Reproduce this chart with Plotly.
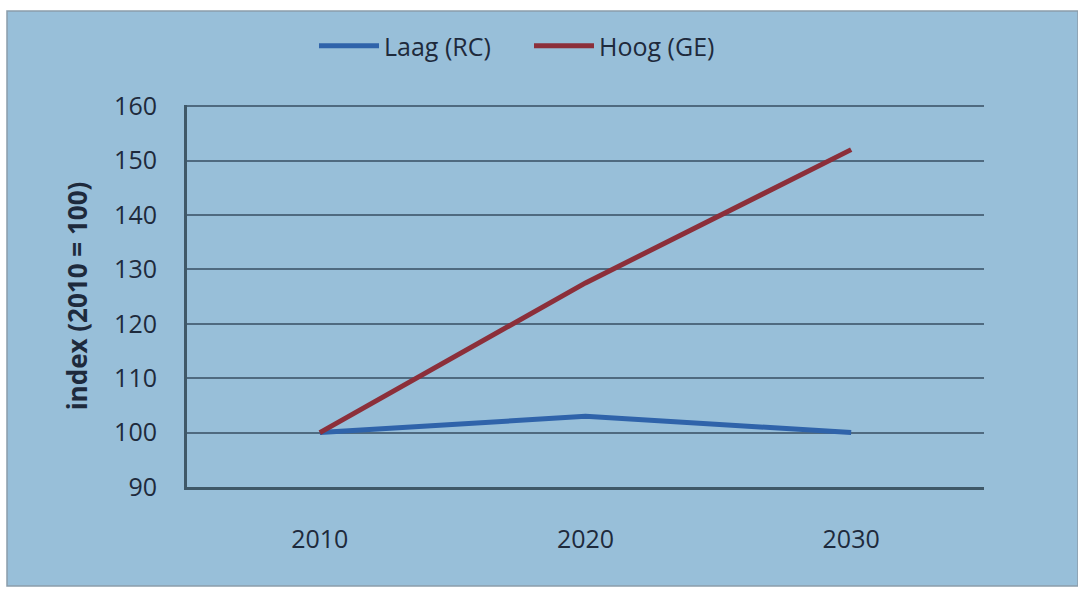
import plotly.graph_objects as go

years = ["2010", "2020", "2030"]
laag = [100, 103, 100]
hoog = [100, 127.5, 152]
y_ticks = [90, 100, 110, 120, 130, 140, 150, 160]

W, H = 1078, 589
L, R, T, B = 187, 1078 - 984, 105, 589 - 487
pw, ph = W - L - R, H - T - B

def px_x(x):
    return (x - L) / pw

def px_y(y):
    return (H - B - y) / ph

fig = go.Figure()
fig.add_trace(go.Scatter(x=years, y=laag, mode="lines", name="Laag (RC)",
                         line=dict(color="#2F63AA", width=5)))
fig.add_trace(go.Scatter(x=years, y=hoog, mode="lines", name="Hoog (GE)",
                         line=dict(color="#8C2F3A", width=5)))

fig.add_shape(type="rect", xref="paper", yref="paper", layer="below",
              x0=px_x(7), x1=px_x(1078), y0=px_y(586), y1=px_y(11),
              fillcolor="#98BFD9", line=dict(color="#8A9DAB", width=1.5))

fig.update_layout(
    width=W, height=H,
    margin=dict(l=L, r=R, t=T, b=B),
    paper_bgcolor="white",
    plot_bgcolor="rgba(0,0,0,0)",
    font=dict(family="Open Sans", color="#1E2A3C", size=25),
    showlegend=True,
    legend=dict(orientation="h", x=px_x(314), xanchor="left", y=px_y(46), yanchor="middle",
                bgcolor="rgba(0,0,0,0)", font=dict(size=25), itemwidth=60,
                entrywidth=140, entrywidthmode="pixels",
                traceorder="normal"),
    xaxis=dict(type="category", range=[-0.5, 2.5], showgrid=False,
               showline=True, linecolor="#3F5868", linewidth=3,
               ticks="", ticklabelstandoff=28, zeroline=False),
    yaxis=dict(range=[90, 160.2], tickvals=y_ticks, showgrid=True,
               gridcolor="#4F6A80", gridwidth=1.5,
               showline=True, linecolor="#3F5868", linewidth=3,
               ticks="", ticklabelstandoff=22, zeroline=False,
               title=dict(text="<b>index (2010 = 100)</b>", font=dict(size=26), standoff=20)),
)

fig.write_html("out.html")
